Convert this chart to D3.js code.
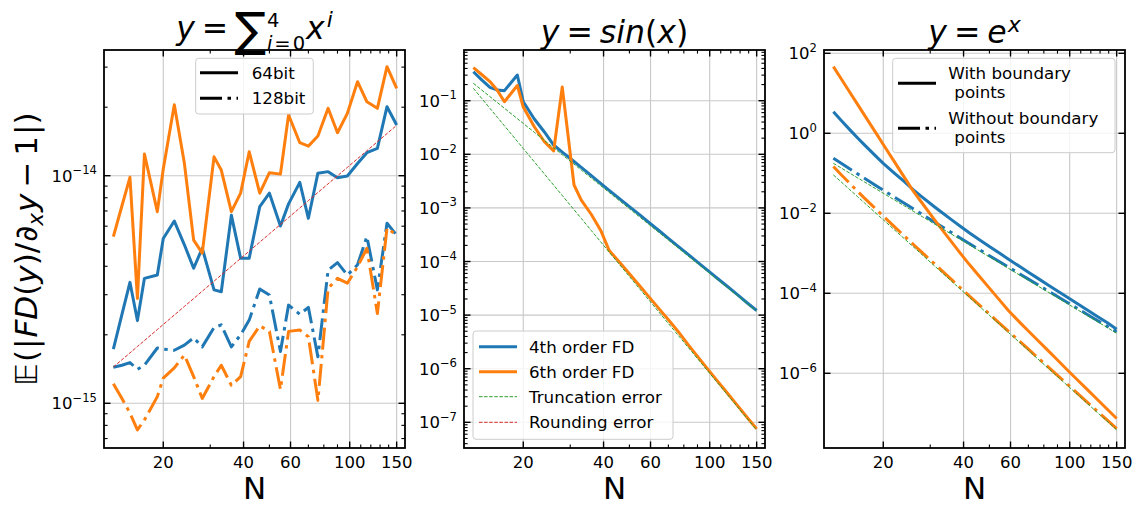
<!DOCTYPE html>
<html>
<head>
<meta charset="utf-8">
<script src="https://cdn.jsdelivr.net/npm/d3@7"></script>
<style>
  body { margin: 0; background: #fff; }
  svg { display: block; }
  text { font-family: "DejaVu Sans", sans-serif; fill: #000; }
</style>
</head>
<body>
<svg id="chart" width="1136" height="507"></svg>
<script>
// Grid sizes N used in every panel
const N = [13,14,15,16,17,19,20,22,24,26,28,31,33,36,39,42,46,50,55,59,65,70,76,83,90,98,107,116,127,138,150];

// Panel 1: y = sum x^i  (mean |FD(y)/d_x y - 1|)
const poly4th64 = [1.73e-15,2.46e-15,3.40e-15,2.31e-15,3.54e-15,3.66e-15,5.3e-15,6.32e-15,4.97e-15,3.92e-15,4.80e-15,3.15e-15,3.09e-15,6.71e-15,4.34e-15,4.34e-15,7.31e-15,8.38e-15,6.01e-15,7.52e-15,9.35e-15,6.50e-15,1.026e-14,1.042e-14,9.80e-15,9.97e-15,1.132e-14,1.262e-14,1.318e-14,2.01e-14,1.67e-14];
const poly6th64 = [5.40e-15,7.38e-15,9.84e-15,2.89e-15,1.245e-14,6.95e-15,1.07e-14,2.05e-14,1.133e-14,5.21e-15,4.57e-15,1.21e-14,1.059e-14,6.95e-15,8.38e-15,1.274e-14,8.38e-15,1.031e-14,1.016e-14,1.849e-14,1.396e-14,1.349e-14,1.493e-14,1.977e-14,1.545e-14,1.879e-14,2.588e-14,2.113e-14,1.977e-14,3.013e-14,2.42e-14];
const poly4th128 = [1.44e-15,1.47e-15,1.51e-15,1.41e-15,1.47e-15,1.75e-15,1.73e-15,1.71e-15,1.80e-15,1.94e-15,1.77e-15,2.15e-15,2.21e-15,1.77e-15,2.00e-15,2.32e-15,3.18e-15,2.99e-15,1.69e-15,2.70e-15,2.46e-15,2.64e-15,1.60e-15,3.85e-15,4.15e-15,3.66e-15,4.06e-15,5.40e-15,3.15e-15,6.18e-15,5.48e-15];
const poly6th128 = [1.22e-15,1.05e-15,9.06e-16,7.64e-16,8.45e-16,1.07e-15,1.29e-15,1.43e-15,1.63e-15,1.31e-15,1.05e-15,1.31e-15,1.47e-15,1.20e-15,1.31e-15,1.87e-15,2.19e-15,2.07e-15,1.15e-15,2.07e-15,2.10e-15,1.96e-15,1.03e-15,3.20e-15,3.54e-15,3.37e-15,3.98e-15,4.80e-15,2.48e-15,5.89e-15,5.48e-15];
const polyRounding = [1.443e-15,1.554e-15,1.665e-15,1.776e-15,1.887e-15,2.109e-15,2.220e-15,2.442e-15,2.664e-15,2.886e-15,3.108e-15,3.441e-15,3.663e-15,3.996e-15,4.329e-15,4.662e-15,5.106e-15,5.550e-15,6.105e-15,6.549e-15,7.215e-15,7.770e-15,8.436e-15,9.213e-15,9.990e-15,1.0878e-14,1.1877e-14,1.2876e-14,1.4097e-14,1.5318e-14,1.665e-14];

// Panel 2: y = sin(x)
const sin4th = [0.3475,0.242,0.178,0.158,0.154,0.302,0.0958,0.0456,0.0261,0.0149,0.01102,0.007334,0.005711,0.003987,0.002860,0.002127,0.001478,0.001059,7.233e-4,5.400e-4,3.665e-4,2.694e-4,1.939e-4,1.363e-4,9.745e-5,6.931e-5,4.822e-5,3.490e-5,2.402e-5,1.703e-5,1.220e-5];
const sin6th = [0.416,0.305,0.228,0.155,0.0958,0.192,0.0762,0.0327,0.01718,0.01153,0.180,0.002673,0.001403,7.53e-4,3.84e-4,1.60e-4,9.618e-5,5.899e-5,3.369e-5,2.236e-5,1.265e-5,8.204e-6,5.010e-6,2.819e-6,1.695e-6,1.005e-6,5.867e-7,3.613e-7,2.074e-7,1.246e-7,7.553e-8];
const sinTrunc4th = [0.2113,0.1571,0.1192,0.09210,0.07228,0.04632,0.03772,0.02577,0.01819,0.01321,0.009820,0.006535,0.005090,0.003593,0.002609,0.001940,0.001348,9.658e-4,6.596e-4,4.983e-4,3.381e-4,2.514e-4,1.809e-4,1.272e-4,9.200e-5,6.543e-5,4.605e-5,3.333e-5,2.320e-5,1.664e-5,1.192e-5];
const sinTrunc6th = [0.1702,0.1091,0.07213,0.04897,0.03403,0.01746,0.01284,0.007246,0.004298,0.002660,0.001705,9.258e-4,6.362e-4,3.774e-4,2.335e-4,1.497e-4,8.674e-5,5.257e-5,2.968e-5,1.948e-5,1.089e-5,6.982e-6,4.264e-6,2.513e-6,1.546e-6,9.275e-7,5.475e-7,3.372e-7,1.958e-7,1.190e-7,7.213e-8];

// Panel 3: y = e^x, with and without boundary points
const exp4thWith = [3.467,2.004,1.219,0.7762,0.5129,0.2460,0.1778,0.1014,0.06166,0.03802,0.02541,0.01483,0.01074,0.006950,0.004699,0.003273,0.002153,0.001479,9.68e-4,7.11e-4,4.645e-4,3.365e-4,2.360e-4,1.614e-4,1.140e-4,7.93e-5,5.46e-5,3.87e-5,2.64e-5,1.862e-5,1.259e-5];
const exp6thWith = [46.5,21.48,10.47,5.358,2.851,0.8974,0.5260,0.1954,0.07907,0.03467,0.01782,0.007145,0.004130,0.001954,9.817e-4,5.297e-4,2.594e-4,1.346e-4,6.368e-5,3.664e-5,1.875e-5,1.143e-5,6.607e-6,3.681e-6,2.143e-6,1.213e-6,6.808e-7,4.009e-7,2.208e-7,1.279e-7,7.396e-8];
const exp4thWithout = [0.2371,0.1722,0.1278,0.09689,0.07482,0.04686,0.03772,0.02547,0.01778,0.01276,0.009378,0.006171,0.004750,0.003316,0.002379,0.001749,0.001215,8.709e-4,5.947e-4,4.492e-4,3.049e-4,2.266e-4,1.631e-4,1.147e-4,8.295e-5,5.900e-5,4.153e-5,3.005e-5,2.093e-5,1.500e-5,1.075e-5];
const exp6thWithout = [0.1479,0.08848,0.05522,0.03580,0.02404,0.01178,0.008462,0.004668,0.002706,0.001636,0.001037,5.566e-4,3.781e-4,2.217e-4,1.356e-4,8.594e-5,4.979e-5,3.018e-5,1.704e-5,1.118e-5,6.255e-6,4.009e-6,2.447e-6,1.443e-6,8.876e-7,5.325e-7,3.144e-7,1.936e-7,1.124e-7,6.830e-8,4.141e-8];
const expTrunc4th = [0.1778,0.1322,0.1003,0.07749,0.06081,0.03898,0.03174,0.02168,0.01531,0.01111,0.008264,0.005499,0.004282,0.003024,0.002195,0.001632,0.001134,8.127e-4,5.550e-4,4.192e-4,2.845e-4,2.115e-4,1.522e-4,1.070e-4,7.741e-5,5.506e-5,3.876e-5,2.805e-5,1.953e-5,1.400e-5,1.003e-5];
const expTrunc6th = [0.09120,0.05846,0.03865,0.02624,0.01823,0.009357,0.006879,0.003882,0.002303,0.001425,9.135e-4,4.961e-4,3.409e-4,2.022e-4,1.251e-4,8.020e-5,4.647e-5,2.817e-5,1.590e-5,1.043e-5,5.837e-6,3.741e-6,2.284e-6,1.346e-6,8.284e-7,4.970e-7,2.934e-7,1.806e-7,1.049e-7,6.374e-8,3.865e-8];

// Axis ticks
const xTickLabels = [20, 40, 60, 100, 150];
const xMinorTicks = [30, 50, 70, 80, 90, 110, 120, 130, 140];
const polyYExponents = [-15, -14];
const sinYExponents = [-7, -6, -5, -4, -3, -2, -1];
const expYExponents = [-6, -4, -2, 0, 2];

// Legend texts
const polyLegend = ["64bit", "128bit"];
const sinLegend = ["4th order FD", "6th order FD", "Truncation error", "Rounding error"];
const expLegend = [["With boundary", "points"], ["Without boundary", "points"]];

// ---------------------------------------------------------------------------
const BLUE = "#1f77b4", ORANGE = "#ff7f0e", GREEN = "#2ca02c", RED = "#d62728";
const GRID = "#c8c8c8";
const TOP = 50, PH = 398, PW = 301;
const X_DOMAIN = [11.99, 161.2];
const DASHDOT = "22,5.5,3.5,5.5";
const THIN_DASH = "3.5,1.6";
const LW = 3;
const TS = 31.5;   // title / label size
const SS = 22;     // script size
const LS = 19.5;   // size of the limits on the sum

const svg = d3.select("#chart");
const defs = svg.append("defs");

function measure(str, size, italic) {
  const t = svg.append("text").attr("font-size", size)
    .attr("font-style", italic ? "italic" : "normal").text(str);
  const w = t.node().getComputedTextLength();
  t.remove();
  return w;
}

// Lays out math pieces as tspans of one text element. `mark` remembers the
// start of a piece, `fromMark` restarts there (limits stacked on a sum).
function mathText(parent, pieces) {
  let pos = 0, maxEnd = 0, mark = 0;
  const placed = pieces.map(p => {
    const x0 = p.fromMark ? mark : pos + (p.gap || 0);
    if (p.mark) mark = x0;
    const w = measure(p.t, p.size, p.it);
    pos = x0 + w;
    maxEnd = Math.max(maxEnd, pos);
    return Object.assign({ x0 }, p);
  });
  const t = parent.append("text");
  placed.forEach(p => {
    t.append("tspan").attr("x", p.x0).attr("y", p.dy || 0)
      .attr("font-size", p.size)
      .attr("font-style", p.it ? "italic" : "normal")
      .text(p.t);
  });
  return { t, width: maxEnd };
}

function expLabel(e) {
  return e < 0 ? "\u2212" + Math.abs(e) : String(e);
}

function drawPanel(cfg) {
  const left = cfg.left, right = left + PW, bottom = TOP + PH;
  const x = d3.scaleLog().domain(X_DOMAIN).range([left, right]);
  const y = d3.scaleLog().domain(cfg.yDomain).range([bottom, TOP]);
  const g = svg.append("g");

  const clipId = "clip" + cfg.id;
  defs.append("clipPath").attr("id", clipId)
    .append("rect").attr("x", left).attr("y", TOP).attr("width", PW).attr("height", PH);

  const yMajor = cfg.yExp.map(e => Math.pow(10, e));
  const yMinor = cfg.yMinor ? y.ticks(20).filter(v => {
    const l = Math.log10(v); return Math.abs(l - Math.round(l)) > 1e-6;
  }) : [];

  // grid
  const grid = g.append("g").attr("stroke", GRID).attr("stroke-width", 1.1);
  grid.selectAll("line.gx").data(xTickLabels).join("line")
    .attr("x1", d => x(d)).attr("x2", d => x(d)).attr("y1", TOP).attr("y2", bottom);
  grid.selectAll("line.gy").data(yMajor).join("line")
    .attr("x1", left).attr("x2", right).attr("y1", d => y(d)).attr("y2", d => y(d));

  // series
  const line = d3.line().x((d, i) => x(N[i])).y(d => y(d));
  const lines = g.append("g").attr("clip-path", `url(#${clipId})`);
  cfg.series.forEach(s => {
    lines.append("path")
      .attr("d", line(s.values))
      .attr("fill", "none")
      .attr("stroke", s.color)
      .attr("stroke-width", s.width)
      .attr("stroke-linejoin", "round")
      .attr("stroke-dasharray", s.dash || null);
  });

  // ticks (pointing inward, on all four sides)
  const ticks = g.append("g").attr("stroke", "#000");
  const addX = (vals, len, w) => {
    vals.forEach(v => {
      const px = x(v);
      ticks.append("line").attr("x1", px).attr("x2", px).attr("y1", bottom).attr("y2", bottom - len).attr("stroke-width", w);
      ticks.append("line").attr("x1", px).attr("x2", px).attr("y1", TOP).attr("y2", TOP + len).attr("stroke-width", w);
    });
  };
  const addY = (vals, len, w) => {
    vals.forEach(v => {
      const py = y(v);
      ticks.append("line").attr("x1", left).attr("x2", left + len).attr("y1", py).attr("y2", py).attr("stroke-width", w);
      ticks.append("line").attr("x1", right).attr("x2", right - len).attr("y1", py).attr("y2", py).attr("stroke-width", w);
    });
  };
  addX(xTickLabels, 6.5, 1.4);
  addX(xMinorTicks, 3.6, 1.1);
  addY(yMajor, 6.5, 1.4);
  addY(yMinor, 3.6, 1.1);

  // frame
  g.append("rect").attr("x", left).attr("y", TOP).attr("width", PW).attr("height", PH)
    .attr("fill", "none").attr("stroke", "#000").attr("stroke-width", 1.8);

  // x tick labels
  g.selectAll("text.xt").data(xTickLabels).join("text")
    .attr("x", d => x(d)).attr("y", bottom + 19.5)
    .attr("text-anchor", "middle").attr("font-size", 16.5)
    .text(d => d);

  // y tick labels 10^k
  cfg.yExp.forEach(e => {
    const t = g.append("text")
      .attr("x", left - 7).attr("y", y(Math.pow(10, e)) + 6)
      .attr("text-anchor", "end").attr("font-size", 16.5);
    t.append("tspan").text("10");
    t.append("tspan").attr("dy", -7.5).attr("font-size", 11.6).text(expLabel(e));
  });

  // x label
  g.append("text").attr("x", left + PW / 2).attr("y", 499)
    .attr("text-anchor", "middle").attr("font-size", 31).text("N");

  // title
  const tg = g.append("g");
  const tr = mathText(tg, cfg.title);
  tg.attr("transform", `translate(${left + PW / 2 - tr.width / 2},${cfg.titleBase})`);

  // legend
  const L = cfg.legend;
  const lg = g.append("g");
  lg.append("rect").attr("x", L.x).attr("y", L.y).attr("width", L.w).attr("height", L.h)
    .attr("rx", 3).attr("fill", "#fff").attr("fill-opacity", 0.8)
    .attr("stroke", "#cccccc").attr("stroke-width", 1);
  L.items.forEach(it => {
    lg.append("line").attr("x1", L.hx).attr("x2", L.hx + 38).attr("y1", it.hy).attr("y2", it.hy)
      .attr("stroke", it.color).attr("stroke-width", it.width)
      .attr("stroke-dasharray", it.dash || null);
    it.lines.forEach(tl => {
      lg.append("text").attr("x", L.tx + (tl.indent || 0)).attr("y", tl.y)
        .attr("dominant-baseline", "central").attr("font-size", 16.7).text(tl.t);
    });
  });
  return { x, y };
}

// Panel 1
drawPanel({
  id: 1, left: 104,
  yDomain: [6.362e-16, 3.567e-14],
  yExp: polyYExponents, yMinor: true,
  series: [
    { values: poly4th64, color: BLUE, width: LW },
    { values: poly4th128, color: BLUE, width: LW, dash: DASHDOT },
    { values: poly6th64, color: ORANGE, width: LW },
    { values: poly6th128, color: ORANGE, width: LW, dash: DASHDOT },
    { values: polyRounding, color: RED, width: 1, dash: THIN_DASH }
  ],
  titleBase: 39,
  title: [
    { t: "y", it: true, size: TS },
    { t: "=", gap: 7, size: TS },
    { t: "\u2211", gap: 6, size: 47, dy: 6.5 },
    { t: "4", size: LS, dy: -12, gap: 1, mark: true },
    { t: "i", it: true, size: LS, dy: 11, fromMark: true },
    { t: "=", size: LS, dy: 11, gap: 2 },
    { t: "0", size: LS, dy: 11, gap: 2 },
    { t: "x", it: true, size: TS, gap: 1 },
    { t: "i", it: true, size: SS, dy: -12, gap: 2 }
  ],
  legend: {
    x: 195.7, y: 58.3, w: 117.6, h: 55.7, hx: 200, tx: 251.7,
    items: [
      { color: "#000", width: LW, hy: 72.7, lines: [{ t: polyLegend[0], y: 72.7 }] },
      { color: "#000", width: LW, dash: DASHDOT, hy: 98.3, lines: [{ t: polyLegend[1], y: 98.3 }] }
    ]
  }
});

// Panel 2
drawPanel({
  id: 2, left: 464,
  yDomain: [3.319e-8, 0.8831],
  yExp: sinYExponents, yMinor: true,
  series: [
    { values: sin4th, color: BLUE, width: LW },
    { values: sin6th, color: ORANGE, width: LW },
    { values: sinTrunc4th, color: GREEN, width: 1, dash: THIN_DASH },
    { values: sinTrunc6th, color: GREEN, width: 1, dash: THIN_DASH }
  ],
  titleBase: 43,
  title: [
    { t: "y", it: true, size: TS },
    { t: "=", gap: 7, size: TS },
    { t: "sin", it: true, gap: 7, size: TS },
    { t: "(", size: TS },
    { t: "x", it: true, size: TS },
    { t: ")", size: TS }
  ],
  legend: {
    x: 473, y: 331, w: 200, h: 108.3, hx: 479, tx: 529,
    items: [
      { color: BLUE, width: LW, hy: 346.7, lines: [{ t: sinLegend[0], y: 346.7 }] },
      { color: ORANGE, width: LW, hy: 371.7, lines: [{ t: sinLegend[1], y: 371.7 }] },
      { color: GREEN, width: 1, dash: THIN_DASH, hy: 396.7, lines: [{ t: sinLegend[2], y: 396.7 }] },
      { color: RED, width: 1, dash: THIN_DASH, hy: 422.3, lines: [{ t: sinLegend[3], y: 422.3 }] }
    ]
  }
});

// Panel 3
drawPanel({
  id: 3, left: 824,
  yDomain: [1.357e-8, 120.9],
  yExp: expYExponents, yMinor: false,
  series: [
    { values: exp4thWith, color: BLUE, width: LW },
    { values: exp4thWithout, color: BLUE, width: LW, dash: DASHDOT },
    { values: exp6thWith, color: ORANGE, width: LW },
    { values: exp6thWithout, color: ORANGE, width: LW, dash: DASHDOT },
    { values: expTrunc4th, color: GREEN, width: 1, dash: THIN_DASH },
    { values: expTrunc6th, color: GREEN, width: 1, dash: THIN_DASH }
  ],
  titleBase: 43,
  title: [
    { t: "y", it: true, size: TS },
    { t: "=", gap: 7, size: TS },
    { t: "e", it: true, gap: 7, size: TS },
    { t: "x", it: true, size: SS, dy: -11, gap: 1 }
  ],
  legend: {
    x: 892.7, y: 58.3, w: 222.3, h: 94.4, hx: 898, tx: 948.3,
    items: [
      { color: "#000", width: LW, hy: 83.3, lines: [{ t: expLegend[0][0], y: 72.7 }, { t: expLegend[0][1], y: 91.7, indent: 6 }] },
      { color: "#000", width: LW, dash: DASHDOT, hy: 128.3, lines: [{ t: expLegend[1][0], y: 118.3 }, { t: expLegend[1][1], y: 136.7, indent: 6 }] }
    ]
  }
});

// shared y label
const ylg = svg.append("g");
const yl = mathText(ylg, [
  { t: "\uD835\uDD3C", it: true, size: 31 },
  { t: "(", size: 31, gap: 1 },
  { t: "|", size: 31, gap: 1 },
  { t: "FD", it: true, size: 31, gap: 1 },
  { t: "(", size: 31 },
  { t: "y", it: true, size: 31 },
  { t: ")", size: 31 },
  { t: "/", size: 31 },
  { t: "\u2202", it: true, size: 31, gap: 1 },
  { t: "x", it: true, size: 21.5, dy: 6 },
  { t: "y", it: true, size: 31, gap: 1 },
  { t: "\u2212", size: 31, gap: 6 },
  { t: "1", size: 31, gap: 6 },
  { t: "|", size: 31, gap: 1 },
  { t: ")", size: 31 }
]);
ylg.attr("transform", `translate(37,249) rotate(-90) translate(${-yl.width / 2},0)`);
</script>
</body>
</html>
